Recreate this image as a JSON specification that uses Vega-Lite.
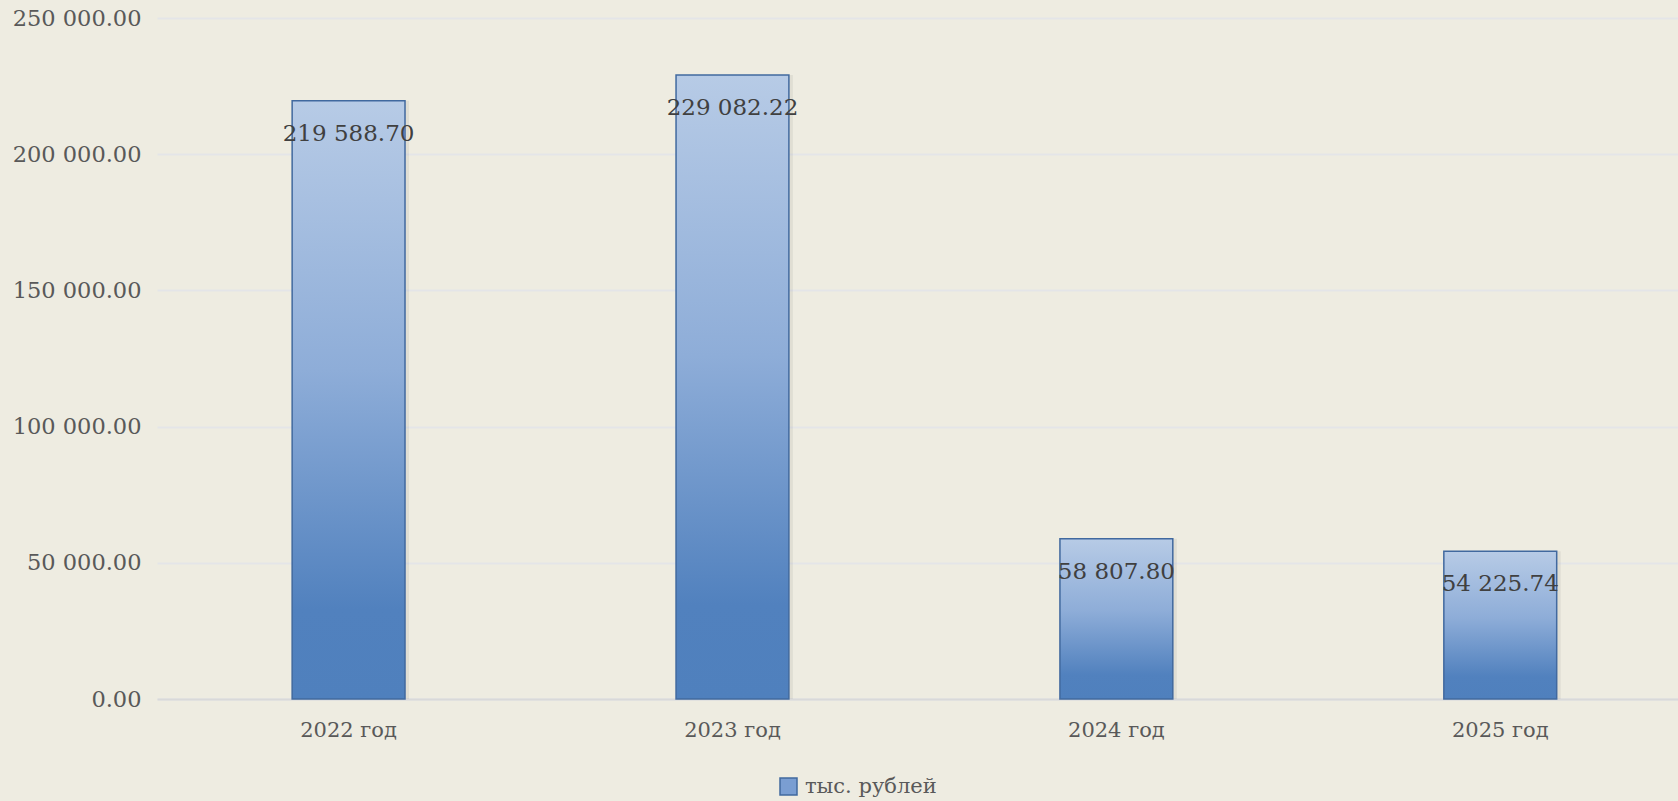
{
  "$schema": "https://vega.github.io/schema/vega-lite/v6.json",
  "autosize": {"type": "none"},
  "width": 1521,
  "height": 681,
  "padding": {"left": 157, "top": 18, "right": 0, "bottom": 102},
  "background": "#eeece1",
  "config": {
    "view": {"stroke": null},
    "locale": {"number": {"decimal": ".", "thousands": " ", "grouping": [3], "currency": ["", ""]}},
    "font": "DejaVu Serif"
  },
  "data": {
    "values": [
      {"year": "2022 год", "value": 219588.70, "series": "тыс. рублей"},
      {"year": "2023 год", "value": 229082.22, "series": "тыс. рублей"},
      {"year": "2024 год", "value": 58807.80, "series": "тыс. рублей"},
      {"year": "2025 год", "value": 54225.74, "series": "тыс. рублей"}
    ]
  },
  "encoding": {
    "x": {
      "field": "year", "type": "nominal", "sort": null,
      "scale": {"paddingInner": 0.706, "paddingOuter": 0.334, "align": 0.527},
      "axis": {
        "title": null, "labelAngle": 0, "ticks": false, "grid": false,
        "domainColor": "#d9d9d9", "domainWidth": 2,
        "labelFont": "DejaVu Serif", "labelFontSize": 21, "labelColor": "#595959",
        "labelPadding": 20
      }
    },
    "y": {
      "field": "value", "type": "quantitative",
      "scale": {"domain": [0, 250000], "nice": false},
      "axis": {
        "title": null, "values": [0, 50000, 100000, 150000, 200000, 250000],
        "format": ",.2f", "domain": false, "ticks": false,
        "gridColor": "#e4e5e8", "gridWidth": 2,
        "labelFont": "DejaVu Serif", "labelFontSize": 22.5, "labelColor": "#595959",
        "labelPadding": 16
      }
    }
  },
  "layer": [
    {
      "mark": {"type": "bar", "fill": "#000000", "opacity": 0.06, "xOffset": 4},
      "encoding": {}
    },
    {
      "mark": {"type": "bar", "stroke": "#41699f", "strokeWidth": 1.5,
        "fill": {"gradient": "linear", "x1": 0, "y1": 0, "x2": 0, "y2": 1,
          "stops": [
            {"offset": 0, "color": "#b7cbe6"},
            {"offset": 0.45, "color": "#8eadd8"},
            {"offset": 0.85, "color": "#5181be"},
            {"offset": 1, "color": "#4f80bd"}
          ]}},
      "encoding": {}
    },
    {
      "mark": {"type": "point", "shape": "square", "filled": true, "opacity": 0},
      "encoding": {
        "color": {
          "field": "series", "type": "nominal",
          "scale": {"range": ["#7a9ed2"]},
          "legend": {
            "title": null, "orient": "none", "legendX": 621, "legendY": 758,
            "symbolType": "square", "symbolSize": 289, "symbolStrokeColor": "#41699f",
            "symbolStrokeWidth": 1.5, "symbolOpacity": 1, "symbolFillColor": "#7a9ed2",
            "labelFont": "DejaVu Serif", "labelFontSize": 21, "labelColor": "#595959",
            "labelOffset": 6
          }
        }
      }
    },
    {
      "mark": {"type": "text", "baseline": "middle", "dy": 33, "font": "DejaVu Serif", "fontSize": 23, "color": "#404040"},
      "encoding": {
        "text": {"field": "value", "type": "quantitative", "format": ",.2f"}
      }
    }
  ]
}
